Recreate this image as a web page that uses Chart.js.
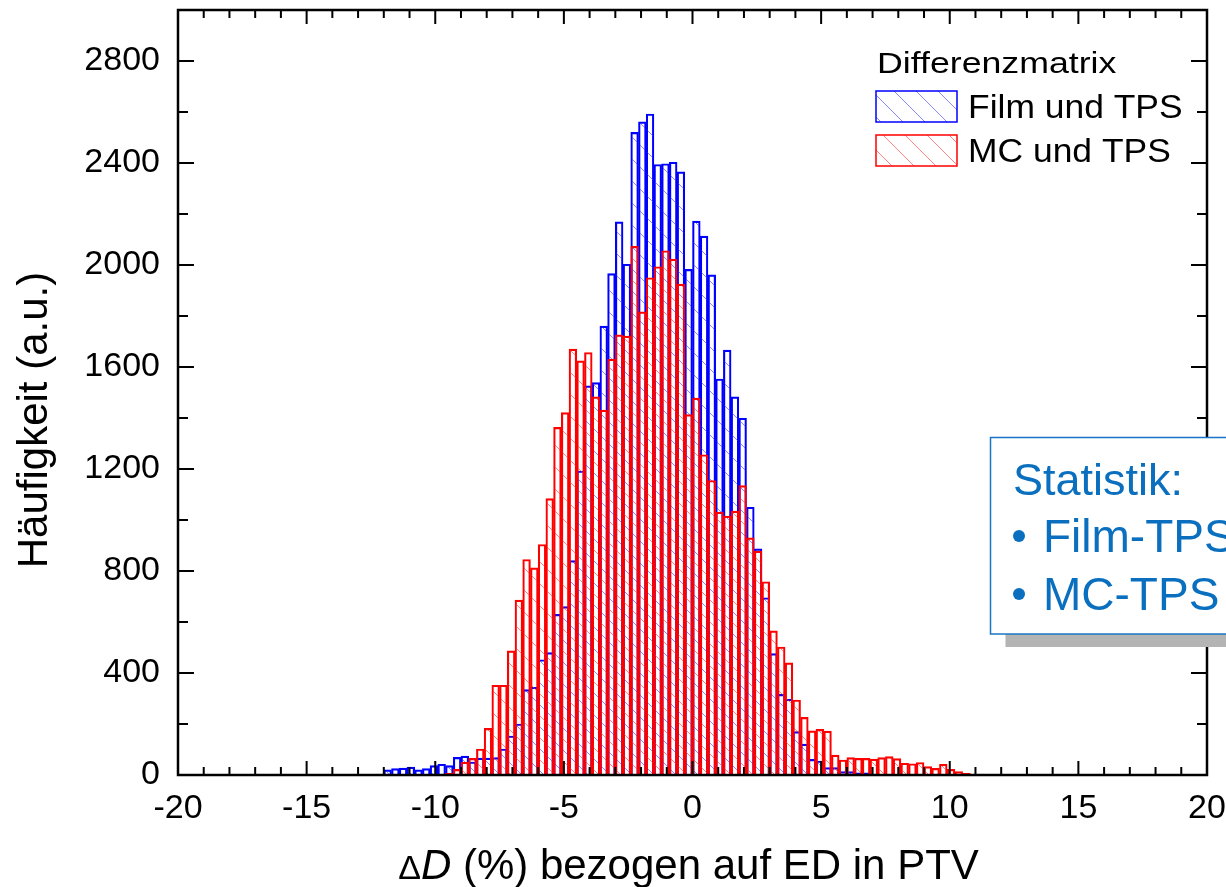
<!DOCTYPE html>
<html>
<head>
<meta charset="utf-8">
<title>Differenzmatrix Histogramm</title>
<script src="https://cdn.jsdelivr.net/npm/chart.js@4.4.1/dist/chart.umd.min.js"></script>
<style>
  html, body { margin: 0; padding: 0; background: #fff; }
  canvas { display: block; }
</style>
</head>
<body>
<canvas id="histChart" width="1226" height="887"></canvas>
<script>
// dose differences binned in 0.3 % steps, first bin -12.0 .. -11.7
const firstBinCenter = -11.85;
const binWidth = 0.3;

const filmTps = [
  20, 25, 27, 31, 20, 25, 37, 42, 37, 69,
  74, 51, 66, 66, 68, 102, 153, 200, 335, 344,
  452, 480, 630, 660, 841, 1192, 1526, 1539, 1760, 1966,
  2169, 2003, 2520, 2561, 2592, 2394, 2397, 2403, 2365, 1983,
  2172, 2113, 1961, 1553, 1666, 1483, 1399, 1050, 887, 695,
  476, 316, 297, 170, 121, 61, 55, 29, 29, 13,
  13, 9, 9, 0, 0, 0, 0, 0, 0, 0,
  0, 0, 0, 0, 0, 0
];

const mcTps = [
  0, 0, 0, 0, 0, 0, 0, 0, 7, 22,
  50, 65, 102, 183, 352, 352, 487, 686, 845, 812,
  904, 1084, 1363, 1421, 1670, 1624, 1657, 1483, 1431, 1631,
  1726, 1721, 2073, 1816, 1950, 1993, 2056, 2023, 1925, 1413,
  1478, 1256, 1155, 1031, 1015, 1035, 1135, 930, 878, 758,
  565, 502, 440, 294, 226, 173, 179, 172, 78, 59,
  68, 65, 65, 62, 68, 72, 64, 46, 44, 49,
  33, 26, 42, 22, 13, 7
];

const binCenters = filmTps.map((_, i) => +(firstBinCenter + binWidth * i).toFixed(2));

const xTickLabels = [-20, -15, -10, -5, 0, 5, 10, 15, 20];
const yTickLabels = [0, 400, 800, 1200, 1600, 2000, 2400, 2800];

const seriesNames = ['Film und TPS', 'MC und TPS'];
const legendTitle = 'Differenzmatrix';
const statLines = ['Statistik:', 'Film-TPS', 'MC-TPS'];

const FONT = '"Liberation Sans", Arial, sans-serif';

// diagonal "\" hatch used as bar fill
function hatch(color, shift) {
  const size = 22;
  const c = document.createElement('canvas');
  c.width = size; c.height = size;
  const g = c.getContext('2d');
  g.strokeStyle = color;
  g.lineWidth = 1;
  g.beginPath();
  g.moveTo(-2, shift - 2); g.lineTo(size + 2, shift + size + 2);
  g.moveTo(-2, shift - size - 2); g.lineTo(size + 2, shift + 2);
  g.stroke();
  return g.createPattern(c, 'repeat');
}

const blueHatch = hatch('rgba(60, 60, 255, 0.6)', 11);
const redHatch = hatch('rgba(255, 50, 50, 0.6)', 0);

function stretchedText(ctx, text, x, y, sx) {
  ctx.save();
  ctx.translate(x, y);
  ctx.scale(sx, 1);
  ctx.fillText(text, 0, 0);
  ctx.restore();
}

const decor = {
  id: 'decor',
  afterDraw(chart) {
    const { ctx, chartArea: a, scales: { x, y } } = chart;
    ctx.save();

    // inward ticks on all four sides
    ctx.strokeStyle = '#000';
    ctx.lineWidth = 2;
    ctx.beginPath();
    for (let v = -20; v <= 20; v++) {
      const px = x.getPixelForValue(v);
      const len = v % 5 === 0 ? 14 : 8;
      ctx.moveTo(px, a.bottom); ctx.lineTo(px, a.bottom - len);
      ctx.moveTo(px, a.top); ctx.lineTo(px, a.top + len);
    }
    for (let v = 0; v <= 3000; v += 200) {
      const py = y.getPixelForValue(v);
      const len = v % 400 === 0 ? 16 : 10;
      ctx.moveTo(a.left, py); ctx.lineTo(a.left + len, py);
      ctx.moveTo(a.right, py); ctx.lineTo(a.right - len, py);
    }
    ctx.stroke();

    // frame
    ctx.lineWidth = 2.5;
    ctx.strokeRect(a.left, a.top, a.right - a.left, a.bottom - a.top);

    // axis titles
    ctx.fillStyle = '#000';
    ctx.textBaseline = 'alphabetic';
    ctx.save();
    ctx.translate(47, 420);
    ctx.rotate(-Math.PI / 2);
    ctx.textAlign = 'center';
    ctx.font = '42px ' + FONT;
    ctx.fillText('Häufigkeit (a.u.)', 0, 0);
    ctx.restore();

    const parts = [
      { t: 'Δ', f: '34px ' + FONT },
      { t: 'D', f: 'italic 42px ' + FONT },
      { t: ' (%) bezogen auf ED in PTV', f: '42px ' + FONT }
    ];
    let total = 0;
    parts.forEach(p => { ctx.font = p.f; p.w = ctx.measureText(p.t).width; total += p.w; });
    let tx = (a.left + a.right) / 2 - 4 - total / 2;
    ctx.textAlign = 'left';
    parts.forEach(p => { ctx.font = p.f; ctx.fillText(p.t, tx, 879); tx += p.w; });

    // legend
    ctx.font = '30px ' + FONT;
    stretchedText(ctx, legendTitle, 877, 73, 1.19);
    const swatches = [
      { fill: blueHatch, stroke: '#0000ff', top: 91 },
      { fill: redHatch, stroke: '#ff0000', top: 135 }
    ];
    swatches.forEach((s, i) => {
      ctx.fillStyle = s.fill;
      ctx.fillRect(876, s.top, 81, 31);
      ctx.strokeStyle = s.stroke;
      ctx.lineWidth = 1.5;
      ctx.strokeRect(876, s.top, 81, 31);
      ctx.fillStyle = '#000';
      ctx.font = '32.5px ' + FONT;
      stretchedText(ctx, seriesNames[i], 968, s.top + 27, 1.09);
    });

    // statistics box
    const boxTop = 437.5, boxBottom = 634, boxLeft = 990.5;
    ctx.fillStyle = '#b4b4b4';
    ctx.fillRect(boxLeft + 15, boxBottom, 300, 13);
    ctx.fillStyle = '#fff';
    ctx.fillRect(boxLeft, boxTop, 300, boxBottom - boxTop);
    ctx.strokeStyle = '#1a75c4';
    ctx.lineWidth = 1.5;
    ctx.strokeRect(boxLeft, boxTop, 300, boxBottom - boxTop);
    ctx.fillStyle = '#0a6fbe';
    ctx.font = '45px ' + FONT;
    ctx.fillText(statLines[0], 1013, 495);
    ctx.font = '46px ' + FONT;
    [552, 610].forEach((by, i) => {
      ctx.beginPath();
      ctx.arc(1019, by - 16, 6, 0, Math.PI * 2);
      ctx.fill();
      ctx.fillText(statLines[i + 1], 1043, by);
    });

    ctx.restore();
  }
};

const toPoints = arr => arr.map((v, i) => ({ x: binCenters[i], y: v }));

new Chart(document.getElementById('histChart'), {
  type: 'bar',
  data: {
    datasets: [
      {
        label: seriesNames[1],
        data: toPoints(mcTps),
        backgroundColor: redHatch,
        borderColor: '#ff0000',
        borderWidth: 1.5,
        order: 0
      },
      {
        label: seriesNames[0],
        data: toPoints(filmTps),
        backgroundColor: blueHatch,
        borderColor: '#0000ff',
        borderWidth: 1.5,
        order: 1
      }
    ]
  },
  options: {
    responsive: false,
    devicePixelRatio: 1,
    animation: false,
    grouped: false,
    barPercentage: 1,
    categoryPercentage: 1,
    layout: { padding: { top: 10, right: 19, left: 0, bottom: 0 } },
    plugins: { legend: { display: false }, tooltip: { enabled: false } },
    scales: {
      x: {
        type: 'linear',
        min: -20,
        max: 20,
        offset: false,
        afterBuildTicks: s => { s.ticks = xTickLabels.map(v => ({ value: v })); },
        afterFit: s => {
          s.height = 112;
          s.paddingLeft = 0; s.paddingRight = 0;
        },
        ticks: {
          autoSkip: false,
          maxRotation: 0,
          padding: 13,
          color: '#000',
          font: { family: FONT, size: 34 },
          callback: v => String(v)
        },
        grid: { display: false, drawTicks: false, tickLength: 0 },
        border: { display: false }
      },
      y: {
        min: 0,
        max: 3000,
        afterBuildTicks: s => { s.ticks = yTickLabels.map(v => ({ value: v })); },
        afterFit: s => {
          s.width = 178;
          s.paddingTop = 0; s.paddingBottom = 0;
        },
        ticks: {
          padding: 18,
          color: '#000',
          font: { family: FONT, size: 34 },
          callback: v => String(v)
        },
        grid: { display: false, drawTicks: false, tickLength: 0 },
        border: { display: false }
      }
    }
  },
  plugins: [decor]
});
</script>
</body>
</html>
